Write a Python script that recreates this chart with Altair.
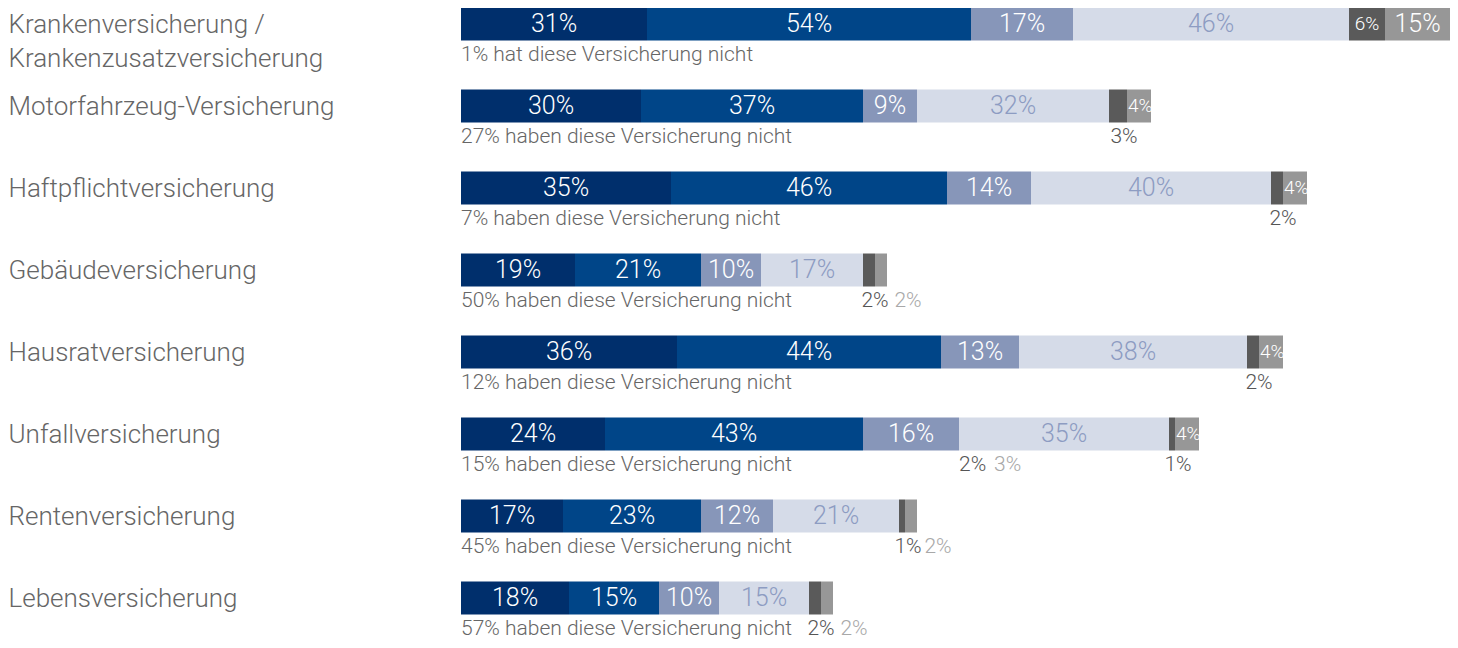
import altair as alt
import pandas as pd

categories = [
    "Krankenversicherung / Krankenzusatzversicherung",
    "Motorfahrzeug-Versicherung",
    "Haftpflichtversicherung",
    "Gebäudeversicherung",
    "Hausratversicherung",
    "Unfallversicherung",
    "Rentenversicherung",
    "Lebensversicherung",
]
seg1 = [31, 30, 35, 19, 36, 24, 17, 18]
seg2 = [54, 37, 46, 21, 44, 43, 23, 15]
seg3 = [17, 9, 14, 10, 13, 16, 12, 10]
seg4 = [46, 32, 40, 17, 38, 35, 21, 15]
seg5 = [6, 3, 2, 2, 2, 1, 1, 2]
seg6 = [15, 4, 4, 2, 4, 4, 2, 2]
not_insured = [1, 27, 7, 50, 12, 15, 45, 57]
# stray labels printed under the Unfallversicherung bar
extra_cat = ["Unfallversicherung"]
extra_dark = ["2%"]
extra_grey = ["3%"]

FONT = "Roboto"
X_MAX = 989 / 6.0
seg_ids = ["s1", "s2", "s3", "s4", "s5", "s6"]
seg_colors = ["#002f6c", "#004588", "#8796b9", "#d5dbe8", "#5a5a5a", "#979797"]

bars, labels = [], []
for i, cat in enumerate(categories):
    vals = [seg1[i], seg2[i], seg3[i], seg4[i], seg5[i], seg6[i]]
    start = 0
    s3_end = 0
    for j, v in enumerate(vals):
        end = start + v
        sid = seg_ids[j]
        bars.append({"cat": cat, "seg": sid, "start": start, "end": end})
        mid = (start + min(end, X_MAX)) / 2
        txt = f"{v}%"
        if j < 4:
            kind = "main"
        elif j == 4:
            kind = "dark_in" if v >= 5 else "dark_below"
        else:
            kind = "grey_in" if v >= 10 else ("grey_small" if v >= 4 else "grey_below")
        labels.append({"cat": cat, "seg": sid, "pos": mid, "start": start, "text": txt, "kind": kind})
        if j == 2:
            s3_end = end
        start = end
    word = "hat" if not_insured[i] == 1 else "haben"
    labels.append({"cat": cat, "seg": "none", "pos": 0, "start": 0,
                   "text": f"{not_insured[i]}% {word} diese Versicherung nicht", "kind": "note"})
    if cat in extra_cat:
        k = extra_cat.index(cat)
        labels.append({"cat": cat, "seg": "x", "pos": s3_end, "start": s3_end, "text": extra_dark[k], "kind": "extra_dark"})
        labels.append({"cat": cat, "seg": "x", "pos": s3_end, "start": s3_end, "text": extra_grey[k], "kind": "extra_grey"})

bars_df = pd.DataFrame(bars)
labels_df = pd.DataFrame(labels)

STEP = 82.0
R0 = 16 - STEP / 2
xscale = alt.Scale(domain=[0, X_MAX], nice=False, zero=False)
yscale = alt.Scale(range=[R0, R0 + 8 * STEP], paddingInner=0, paddingOuter=0)
y_axis = alt.Axis(
    title=None, ticks=False, domain=False, grid=False, tickSize=0,
    labelAlign="left", labelPadding=453, labelBaseline="top", labelOffset=-12.5,
    labelFont=FONT, labelFontSize=26, labelFontWeight=300, labelColor="#666666",
    labelLimit=440, labelLineHeight=34,
    labelExpr="split(replace(datum.label, '/ ', '/|'), '|')",
)
y_enc = alt.Y("cat:N", sort=categories, scale=yscale, axis=y_axis)

bar_layer = alt.Chart(bars_df).mark_bar(height=33, clip=True).encode(
    x=alt.X("start:Q", scale=xscale, axis=None),
    x2="end:Q",
    y=y_enc,
    color=alt.Color("seg:N", scale=alt.Scale(domain=seg_ids, range=seg_colors), legend=None),
)

lab = alt.Chart(labels_df)
NOTE_DY = 31


def text_layer(kind, **mk):
    return lab.transform_filter(alt.datum.kind == kind).mark_text(font=FONT, fontWeight=300, baseline="middle", **mk)


main_layer = text_layer("main", fontSize=25, align="center").encode(
    x=alt.X("pos:Q", scale=xscale, axis=None), y=y_enc, text="text:N",
    color=alt.condition(alt.datum.seg == "s4", alt.value("#8d9cc2"), alt.value("#ffffff")),
)
dark_in = text_layer("dark_in", fontSize=19, align="center", color="#ffffff").encode(
    x=alt.X("pos:Q", scale=xscale, axis=None), y=y_enc, text="text:N")
grey_in = text_layer("grey_in", fontSize=25, align="center", color="#ffffff").encode(
    x=alt.X("pos:Q", scale=xscale, axis=None), y=y_enc, text="text:N")
grey_small = text_layer("grey_small", fontSize=19, align="left", dx=1, color="#ffffff").encode(
    x=alt.X("start:Q", scale=xscale, axis=None), y=y_enc, text="text:N")
dark_below = text_layer("dark_below", fontSize=21, align="center", dx=6, dy=NOTE_DY, color="#555555").encode(
    x=alt.X("pos:Q", scale=xscale, axis=None), y=y_enc, text="text:N")
grey_below = text_layer("grey_below", fontSize=21, align="center", dx=27, dy=NOTE_DY, color="#a8a8a8").encode(
    x=alt.X("pos:Q", scale=xscale, axis=None), y=y_enc, text="text:N")
note_layer = text_layer("note", fontSize=21, align="left", dy=NOTE_DY, color="#666666").encode(
    x=alt.X("pos:Q", scale=xscale, axis=None), y=y_enc, text="text:N")
extra_d = text_layer("extra_dark", fontSize=21, align="left", dy=NOTE_DY, color="#555555").encode(
    x=alt.X("pos:Q", scale=xscale, axis=None), y=y_enc, text="text:N")
extra_g = text_layer("extra_grey", fontSize=21, align="left", dx=35, dy=NOTE_DY, color="#a8a8a8").encode(
    x=alt.X("pos:Q", scale=xscale, axis=None), y=y_enc, text="text:N")

chart = alt.layer(
    bar_layer, main_layer, dark_in, grey_in, grey_small,
    dark_below, grey_below, note_layer, extra_d, extra_g,
).properties(
    width=989, height=632,
    autosize=alt.AutoSizeParams(type="none"),
    padding={"left": 453, "top": 0, "right": 0, "bottom": 0},
    background="#ffffff",
).configure_view(stroke=None)

chart.save("out.html", embed_options={"renderer": "svg", "actions": False})
